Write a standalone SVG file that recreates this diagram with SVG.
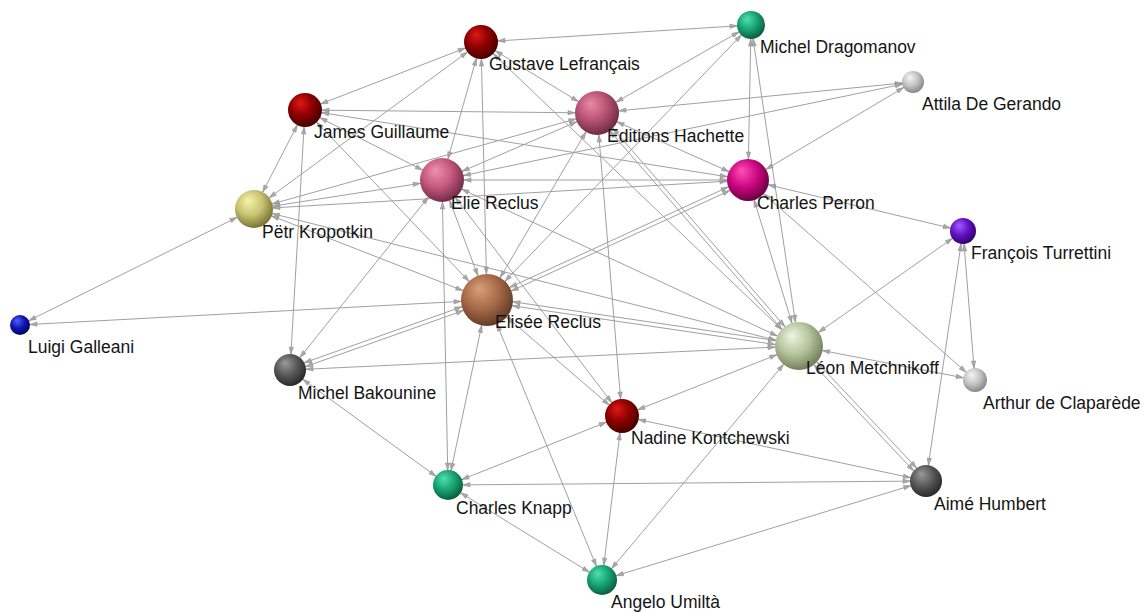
<svg xmlns="http://www.w3.org/2000/svg" width="1146" height="613" viewBox="0 0 1146 613">
<style>
.e line{stroke:#a0a0a0;stroke-width:1;fill:none}
.lbl{font-family:"Liberation Sans",Arial,sans-serif;font-size:17.5px;fill:#141414}
.ah{fill:#a8a8a8;stroke:#8a8a8a;stroke-width:0.5}
</style>
<defs>
<marker id="a10" markerUnits="userSpaceOnUse" markerWidth="8" markerHeight="6" refX="17" refY="3" orient="auto-start-reverse" overflow="visible"><path class="ah" d="M0,0.8 L7,3 L0,5.2 Z"/></marker>
<marker id="a11" markerUnits="userSpaceOnUse" markerWidth="8" markerHeight="6" refX="18" refY="3" orient="auto-start-reverse" overflow="visible"><path class="ah" d="M0,0.8 L7,3 L0,5.2 Z"/></marker>
<marker id="a12" markerUnits="userSpaceOnUse" markerWidth="8" markerHeight="6" refX="19" refY="3" orient="auto-start-reverse" overflow="visible"><path class="ah" d="M0,0.8 L7,3 L0,5.2 Z"/></marker>
<marker id="a13" markerUnits="userSpaceOnUse" markerWidth="8" markerHeight="6" refX="20" refY="3" orient="auto-start-reverse" overflow="visible"><path class="ah" d="M0,0.8 L7,3 L0,5.2 Z"/></marker>
<marker id="a14" markerUnits="userSpaceOnUse" markerWidth="8" markerHeight="6" refX="21" refY="3" orient="auto-start-reverse" overflow="visible"><path class="ah" d="M0,0.8 L7,3 L0,5.2 Z"/></marker>
<marker id="a15" markerUnits="userSpaceOnUse" markerWidth="8" markerHeight="6" refX="22" refY="3" orient="auto-start-reverse" overflow="visible"><path class="ah" d="M0,0.8 L7,3 L0,5.2 Z"/></marker>
<marker id="a16" markerUnits="userSpaceOnUse" markerWidth="8" markerHeight="6" refX="23" refY="3" orient="auto-start-reverse" overflow="visible"><path class="ah" d="M0,0.8 L7,3 L0,5.2 Z"/></marker>
<marker id="a17" markerUnits="userSpaceOnUse" markerWidth="8" markerHeight="6" refX="24" refY="3" orient="auto-start-reverse" overflow="visible"><path class="ah" d="M0,0.8 L7,3 L0,5.2 Z"/></marker>
<marker id="a19" markerUnits="userSpaceOnUse" markerWidth="8" markerHeight="6" refX="26" refY="3" orient="auto-start-reverse" overflow="visible"><path class="ah" d="M0,0.8 L7,3 L0,5.2 Z"/></marker>
<marker id="a21" markerUnits="userSpaceOnUse" markerWidth="8" markerHeight="6" refX="28" refY="3" orient="auto-start-reverse" overflow="visible"><path class="ah" d="M0,0.8 L7,3 L0,5.2 Z"/></marker>
<marker id="a22" markerUnits="userSpaceOnUse" markerWidth="8" markerHeight="6" refX="29" refY="3" orient="auto-start-reverse" overflow="visible"><path class="ah" d="M0,0.8 L7,3 L0,5.2 Z"/></marker>
<marker id="a24" markerUnits="userSpaceOnUse" markerWidth="8" markerHeight="6" refX="31" refY="3" orient="auto-start-reverse" overflow="visible"><path class="ah" d="M0,0.8 L7,3 L0,5.2 Z"/></marker>
<marker id="a26" markerUnits="userSpaceOnUse" markerWidth="8" markerHeight="6" refX="33" refY="3" orient="auto-start-reverse" overflow="visible"><path class="ah" d="M0,0.8 L7,3 L0,5.2 Z"/></marker>
<radialGradient id="gRed" cx="42%" cy="38%" r="62%" fx="35%" fy="28%"><stop offset="0" stop-color="#e01818"/><stop offset="0.55" stop-color="#8c0000"/><stop offset="1" stop-color="#4a0000"/></radialGradient>
<radialGradient id="gGreen" cx="42%" cy="38%" r="62%" fx="35%" fy="28%"><stop offset="0" stop-color="#50e0b0"/><stop offset="0.55" stop-color="#17a474"/><stop offset="1" stop-color="#0b5e3e"/></radialGradient>
<radialGradient id="gLGrey" cx="42%" cy="38%" r="62%" fx="35%" fy="28%"><stop offset="0" stop-color="#f6f6f6"/><stop offset="0.55" stop-color="#c4c4c4"/><stop offset="1" stop-color="#888888"/></radialGradient>
<radialGradient id="gMauve" cx="42%" cy="38%" r="62%" fx="35%" fy="28%"><stop offset="0" stop-color="#e88aa8"/><stop offset="0.55" stop-color="#b85274"/><stop offset="1" stop-color="#6e2c44"/></radialGradient>
<radialGradient id="gPink" cx="42%" cy="38%" r="62%" fx="35%" fy="28%"><stop offset="0" stop-color="#f090b0"/><stop offset="0.55" stop-color="#c4587c"/><stop offset="1" stop-color="#742c48"/></radialGradient>
<radialGradient id="gMagenta" cx="42%" cy="38%" r="62%" fx="35%" fy="28%"><stop offset="0" stop-color="#ff50b8"/><stop offset="0.55" stop-color="#cc0680"/><stop offset="1" stop-color="#6c0042"/></radialGradient>
<radialGradient id="gKhaki" cx="42%" cy="38%" r="62%" fx="35%" fy="28%"><stop offset="0" stop-color="#f6f4a8"/><stop offset="0.55" stop-color="#c8c272"/><stop offset="1" stop-color="#7c7434"/></radialGradient>
<radialGradient id="gPurple" cx="42%" cy="38%" r="62%" fx="35%" fy="28%"><stop offset="0" stop-color="#a060ff"/><stop offset="0.55" stop-color="#6212c4"/><stop offset="1" stop-color="#320070"/></radialGradient>
<radialGradient id="gBlue" cx="42%" cy="38%" r="62%" fx="35%" fy="28%"><stop offset="0" stop-color="#5060ff"/><stop offset="0.55" stop-color="#1018b4"/><stop offset="1" stop-color="#000060"/></radialGradient>
<radialGradient id="gBrown" cx="42%" cy="38%" r="62%" fx="35%" fy="28%"><stop offset="0" stop-color="#d8a07c"/><stop offset="0.55" stop-color="#a86a4a"/><stop offset="1" stop-color="#643c26"/></radialGradient>
<radialGradient id="gSage" cx="42%" cy="38%" r="62%" fx="35%" fy="28%"><stop offset="0" stop-color="#eef6e2"/><stop offset="0.55" stop-color="#b4c49c"/><stop offset="1" stop-color="#74805e"/></radialGradient>
<radialGradient id="gDGrey" cx="42%" cy="38%" r="62%" fx="35%" fy="28%"><stop offset="0" stop-color="#9a9a9a"/><stop offset="0.55" stop-color="#585858"/><stop offset="1" stop-color="#2a2a2a"/></radialGradient>
</defs>
<rect width="1146" height="613" fill="#ffffff"/>
<g id="connectors" class="e">
<line x1="20" y1="325" x2="254" y2="209" marker-start="url(#a10)" marker-end="url(#a19)"/>
<line x1="20" y1="325" x2="487" y2="300" marker-start="url(#a10)" marker-end="url(#a26)"/>
<line x1="254" y1="209" x2="305" y2="110" marker-start="url(#a19)" marker-end="url(#a17)"/>
<line x1="254" y1="209" x2="481" y2="42" marker-start="url(#a19)" marker-end="url(#a17)"/>
<line x1="254" y1="209" x2="597" y2="113" marker-start="url(#a19)" marker-end="url(#a22)"/>
<line x1="254" y1="209" x2="442" y2="180" marker-start="url(#a19)" marker-end="url(#a22)"/>
<line x1="254" y1="209" x2="748" y2="180" marker-start="url(#a19)" marker-end="url(#a21)"/>
<line x1="254" y1="209" x2="487" y2="300" marker-start="url(#a19)" marker-end="url(#a26)"/>
<line x1="254" y1="209" x2="799" y2="346" marker-start="url(#a19)" marker-end="url(#a24)"/>
<line x1="305" y1="110" x2="481" y2="42" marker-start="url(#a17)" marker-end="url(#a17)"/>
<line x1="305" y1="110" x2="597" y2="113" marker-start="url(#a17)" marker-end="url(#a22)"/>
<line x1="305" y1="110" x2="748" y2="180" marker-start="url(#a17)" marker-end="url(#a21)"/>
<line x1="305" y1="110" x2="442" y2="180" marker-start="url(#a17)" marker-end="url(#a22)"/>
<line x1="305" y1="110" x2="487" y2="300" marker-start="url(#a17)" marker-end="url(#a26)"/>
<line x1="305" y1="110" x2="290" y2="370" marker-start="url(#a17)" marker-end="url(#a16)"/>
<line x1="481" y1="42" x2="751" y2="25" marker-start="url(#a17)" marker-end="url(#a14)"/>
<line x1="481" y1="42" x2="597" y2="113" marker-start="url(#a17)" marker-end="url(#a22)"/>
<line x1="481" y1="42" x2="442" y2="180" marker-start="url(#a17)" marker-end="url(#a22)"/>
<line x1="481" y1="42" x2="487" y2="300" marker-start="url(#a17)" marker-end="url(#a26)"/>
<line x1="481" y1="42" x2="799" y2="346" marker-start="url(#a17)" marker-end="url(#a24)"/>
<line x1="751" y1="25" x2="597" y2="113" marker-start="url(#a14)" marker-end="url(#a22)"/>
<line x1="751" y1="25" x2="748" y2="180" marker-start="url(#a14)" marker-end="url(#a21)"/>
<line x1="751" y1="25" x2="799" y2="346" marker-start="url(#a14)" marker-end="url(#a24)"/>
<line x1="751" y1="25" x2="487" y2="300" marker-start="url(#a14)" marker-end="url(#a26)"/>
<line x1="913" y1="82" x2="597" y2="113" marker-start="url(#a11)" marker-end="url(#a22)"/>
<line x1="913" y1="82" x2="442" y2="180" marker-start="url(#a11)" marker-end="url(#a22)"/>
<line x1="913" y1="82" x2="748" y2="180" marker-start="url(#a11)" marker-end="url(#a21)"/>
<line x1="597" y1="113" x2="748" y2="180" marker-start="url(#a22)" marker-end="url(#a21)"/>
<line x1="598.5" y1="111.7" x2="800.5" y2="344.7" marker-start="url(#a22)" marker-end="url(#a24)"/>
<line x1="595.5" y1="114.3" x2="797.5" y2="347.3" marker-start="url(#a22)" marker-end="url(#a24)"/>
<line x1="597" y1="113" x2="622" y2="416" marker-start="url(#a22)" marker-end="url(#a17)"/>
<line x1="597" y1="113" x2="487" y2="300" marker-start="url(#a22)" marker-end="url(#a26)"/>
<line x1="597" y1="113" x2="442" y2="180" marker-start="url(#a22)" marker-end="url(#a22)"/>
<line x1="442" y1="180" x2="748" y2="180" marker-start="url(#a22)" marker-end="url(#a21)"/>
<line x1="442" y1="180" x2="487" y2="300" marker-start="url(#a22)" marker-end="url(#a26)"/>
<line x1="442" y1="180" x2="622" y2="416" marker-start="url(#a22)" marker-end="url(#a17)"/>
<line x1="442" y1="180" x2="448" y2="485" marker-start="url(#a22)" marker-end="url(#a15)"/>
<line x1="442" y1="180" x2="290" y2="370" marker-start="url(#a22)" marker-end="url(#a16)"/>
<line x1="442" y1="180" x2="799" y2="346" marker-start="url(#a22)" marker-end="url(#a24)"/>
<line x1="747.2" y1="178.2" x2="486.2" y2="298.2" marker-start="url(#a21)" marker-end="url(#a26)"/>
<line x1="748.8" y1="181.8" x2="487.8" y2="301.8" marker-start="url(#a21)" marker-end="url(#a26)"/>
<line x1="748" y1="180" x2="799" y2="346" marker-start="url(#a21)" marker-end="url(#a24)"/>
<line x1="748" y1="180" x2="963" y2="231" marker-start="url(#a21)" marker-end="url(#a13)"/>
<line x1="748" y1="180" x2="975" y2="380" marker-start="url(#a21)" marker-end="url(#a12)"/>
<line x1="486.7" y1="302" x2="798.7" y2="348" marker-start="url(#a26)" marker-end="url(#a24)"/>
<line x1="487.3" y1="298" x2="799.3" y2="344" marker-start="url(#a26)" marker-end="url(#a24)"/>
<line x1="486.3" y1="298.1" x2="289.3" y2="368.1" marker-start="url(#a26)" marker-end="url(#a16)"/>
<line x1="487.7" y1="301.9" x2="290.7" y2="371.9" marker-start="url(#a26)" marker-end="url(#a16)"/>
<line x1="487" y1="300" x2="448" y2="485" marker-start="url(#a26)" marker-end="url(#a15)"/>
<line x1="487" y1="300" x2="602" y2="580" marker-start="url(#a26)" marker-end="url(#a15)"/>
<line x1="487" y1="300" x2="622" y2="416" marker-start="url(#a26)" marker-end="url(#a17)"/>
<line x1="799" y1="346" x2="290" y2="370" marker-start="url(#a24)" marker-end="url(#a16)"/>
<line x1="799" y1="346" x2="963" y2="231" marker-start="url(#a24)" marker-end="url(#a13)"/>
<line x1="799" y1="346" x2="975" y2="380" marker-start="url(#a24)" marker-end="url(#a12)"/>
<line x1="797.5" y1="347.4" x2="924.5" y2="482.4" marker-start="url(#a24)" marker-end="url(#a16)"/>
<line x1="800.5" y1="344.6" x2="927.5" y2="479.6" marker-start="url(#a24)" marker-end="url(#a16)"/>
<line x1="799" y1="346" x2="622" y2="416" marker-start="url(#a24)" marker-end="url(#a17)"/>
<line x1="799" y1="346" x2="602" y2="580" marker-start="url(#a24)" marker-end="url(#a15)"/>
<line x1="963" y1="231" x2="975" y2="380" marker-start="url(#a13)" marker-end="url(#a12)"/>
<line x1="963" y1="231" x2="926" y2="481" marker-start="url(#a13)" marker-end="url(#a16)"/>
<line x1="622" y1="416" x2="448" y2="485" marker-start="url(#a17)" marker-end="url(#a15)"/>
<line x1="622" y1="416" x2="602" y2="580" marker-start="url(#a17)" marker-end="url(#a15)"/>
<line x1="622" y1="416" x2="926" y2="481" marker-start="url(#a17)" marker-end="url(#a16)"/>
<line x1="448" y1="485" x2="290" y2="370" marker-start="url(#a15)" marker-end="url(#a16)"/>
<line x1="448" y1="485" x2="926" y2="481" marker-start="url(#a15)" marker-end="url(#a16)"/>
<line x1="448" y1="485" x2="602" y2="580" marker-start="url(#a15)" marker-end="url(#a15)"/>
<line x1="602" y1="580" x2="926" y2="481" marker-start="url(#a15)" marker-end="url(#a16)"/>
</g>
<g id="n-gustave"><circle cx="481" cy="42" r="17" fill="url(#gRed)"/><text class="lbl" x="489" y="70">Gustave Lefrançais</text></g>
<g id="n-dragomanov"><circle cx="751" cy="25" r="14" fill="url(#gGreen)"/><text class="lbl" x="760" y="53">Michel Dragomanov</text></g>
<g id="n-attila"><circle cx="913" cy="82" r="11" fill="url(#gLGrey)"/><text class="lbl" x="922" y="110">Attila De Gerando</text></g>
<g id="n-editions"><circle cx="597" cy="113" r="22" fill="url(#gMauve)"/><text class="lbl" x="607" y="142">Editions Hachette</text></g>
<g id="n-james"><circle cx="305" cy="110" r="17" fill="url(#gRed)"/><text class="lbl" x="314" y="138">James Guillaume</text></g>
<g id="n-elie"><circle cx="442" cy="180" r="22" fill="url(#gPink)"/><text class="lbl" x="451" y="209">Elie Reclus</text></g>
<g id="n-perron"><circle cx="748" cy="180" r="21" fill="url(#gMagenta)"/><text class="lbl" x="757" y="209">Charles Perron</text></g>
<g id="n-kropotkin"><circle cx="254" cy="209" r="19" fill="url(#gKhaki)"/><text class="lbl" x="262" y="238">Pëtr Kropotkin</text></g>
<g id="n-turrettini"><circle cx="963" cy="231" r="13" fill="url(#gPurple)"/><text class="lbl" x="971" y="259">François Turrettini</text></g>
<g id="n-galleani"><circle cx="20" cy="325" r="10" fill="url(#gBlue)"/><text class="lbl" x="28" y="353">Luigi Galleani</text></g>
<g id="n-elisee"><circle cx="487" cy="300" r="26" fill="url(#gBrown)"/><text class="lbl" x="495" y="328">Elisée Reclus</text></g>
<g id="n-metchnikoff"><circle cx="799" cy="346" r="24" fill="url(#gSage)"/><text class="lbl" x="806" y="374">Léon Metchnikoff</text></g>
<g id="n-bakounine"><circle cx="290" cy="370" r="16" fill="url(#gDGrey)"/><text class="lbl" x="298" y="399">Michel Bakounine</text></g>
<g id="n-claparede"><circle cx="975" cy="380" r="12" fill="url(#gLGrey)"/><text class="lbl" x="983" y="409">Arthur de Claparède</text></g>
<g id="n-kontchewski"><circle cx="622" cy="416" r="17" fill="url(#gRed)"/><text class="lbl" x="631" y="444">Nadine Kontchewski</text></g>
<g id="n-knapp"><circle cx="448" cy="485" r="15" fill="url(#gGreen)"/><text class="lbl" x="456" y="514">Charles Knapp</text></g>
<g id="n-humbert"><circle cx="926" cy="481" r="16" fill="url(#gDGrey)"/><text class="lbl" x="934" y="510">Aimé Humbert</text></g>
<g id="n-umilta"><circle cx="602" cy="580" r="15" fill="url(#gGreen)"/><text class="lbl" x="611" y="608">Angelo Umiltà</text></g>
</svg>
